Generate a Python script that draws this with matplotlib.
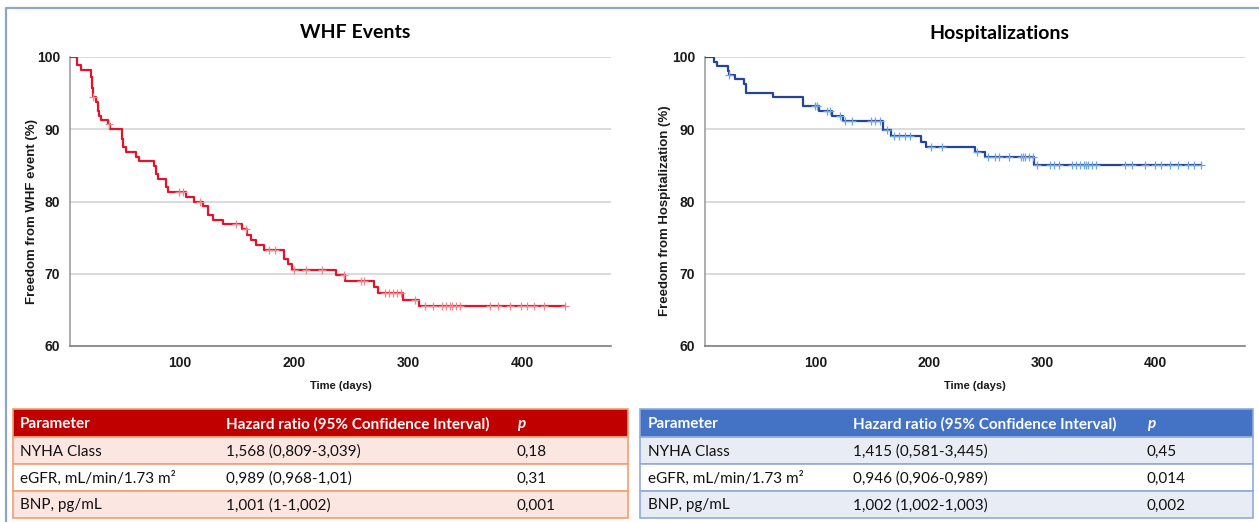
import numpy as np
import matplotlib
matplotlib.use("Agg")
import matplotlib.pyplot as plt
from matplotlib.patches import Rectangle

# --- Kaplan-Meier curve data ---
WHF_TIMES = [0, 10, 13, 22, 23, 24, 26, 28, 29, 31, 37, 39, 49, 50, 53, 61.5, 64,
             77, 79, 81, 88, 89.5, 105, 112, 120.5, 124.6, 129, 138, 154, 158.5,
             162, 167, 174, 191, 195, 198, 237, 245, 270, 274, 296, 310, 438]
WHF_SURV = [100, 98.9, 98.2, 97.2, 95.7, 94.4, 93.8, 92.5, 91.9, 91.3, 90.7, 90.0,
            88.7, 87.6, 86.9, 86.2, 85.6, 84.9, 83.8, 83.1, 82.0, 81.3, 80.6, 80.0,
            79.4, 78.1, 77.5, 76.9, 76.2, 75.4, 74.7, 74.0, 73.3, 72.0, 71.3, 70.5,
            69.8, 69.0, 68.2, 67.4, 66.4, 65.5, 65.5]
WHF_CENSOR = [24, 38, 99.6, 103, 118, 149, 158, 178, 183, 200, 210.5, 225, 243.5,
              259, 261.5, 280, 283.5, 287, 290, 294, 306, 314.5, 321.5, 330, 333.5,
              337, 339, 342, 346, 372, 379, 389, 399.5, 404.5, 410.5, 419.5, 438]

HOSP_TIMES = [0, 10.2, 13.1, 22.8, 23.9, 28.9, 36.5, 38.3, 62.3, 89.3, 102.9, 114.4,
              124.4, 159.2, 166.4, 192.6, 197.6, 240.7, 249.7, 293.2, 440.4]
HOSP_SURV = [100, 99.3, 98.7, 98.1, 97.5, 96.9, 96.2, 95.0, 94.4, 93.2, 92.5, 91.9,
             91.2, 89.9, 89.1, 88.3, 87.6, 86.8, 86.1, 85.1, 85.1]
HOSP_CENSOR = [24, 99.3, 101.4, 110, 112.6, 121.5, 125.8, 132.3, 148.5, 152, 156.8,
               162.8, 168.9, 173.6, 178.9, 183.3, 202.3, 211.3, 242.9, 252.6, 258,
               261.6, 270.6, 281.3, 283.1, 284.9, 288.5, 292.1, 295.7, 306.5, 310.1,
               314.7, 326.2, 329.8, 333.4, 336.9, 338.8, 340.5, 344.2, 347.7, 372.9,
               379.3, 390.8, 399.9, 405.2, 412.4, 420.3, 428.6, 434, 440.4]

X_TICKS = [100, 200, 300, 400]
Y_TICKS = [60, 70, 80, 90, 100]

# --- table data ---
TABLE_HEADER = ["Parameter", "Hazard ratio (95% Confidence Interval)", "p"]
TABLE_PARAMS = ["NYHA Class", "eGFR, mL/min/1.73 m²", "BNP, pg/mL"]
WHF_HR = ["1,568 (0,809-3,039)", "0,989 (0,968-1,01)", "1,001 (1-1,002)"]
WHF_P = ["0,18", "0,31", "0,001"]
HOSP_HR = ["1,415 (0,581-3,445)", "0,946 (0,906-0,989)", "1,002 (1,002-1,003)"]
HOSP_P = ["0,45", "0,014", "0,002"]

W, H = 1259, 522
fig = plt.figure(figsize=(W / 100, H / 100), dpi=100)
fig.patch.set_facecolor("white")

AX_FONT = "Liberation Sans"
TB_FONT = "Lato"


def step_value(times, surv, t):
    i = np.searchsorted(times, t, side="right") - 1
    return surv[max(i, 0)]


def km_panel(rect, times, surv, censor, line_col, cens_col, title, ylabel, xlim,
             ylab_x, title_x):
    ax = fig.add_axes(rect)
    ax.step(times, surv, where="post", color=line_col, lw=1.6, zorder=3)
    cy = [step_value(times, surv, t) for t in censor]
    ax.plot(censor, cy, ls="none", marker="+", ms=5.5, mew=0.9, color=cens_col, zorder=4)
    ax.set_xlim(*xlim)
    ax.set_ylim(60, 100)
    ax.set_xticks(X_TICKS)
    ax.set_yticks(Y_TICKS)
    ax.tick_params(length=0, pad=7)
    for lab in ax.get_xticklabels() + ax.get_yticklabels():
        lab.set_fontfamily(AX_FONT)
        lab.set_fontweight("bold")
        lab.set_fontsize(10)
        lab.set_color("#1a1a1a")
    ax.yaxis.grid(True, color="#d4d4d4", lw=1.2)
    ax.set_axisbelow(True)
    for s in ["top", "right"]:
        ax.spines[s].set_visible(False)
    ax.spines["left"].set_color("#a0a0a0")
    ax.spines["bottom"].set_color("#808080")
    ax.spines["left"].set_linewidth(1.2)
    ax.spines["bottom"].set_linewidth(1.2)
    ax.set_xlabel("Time (days)", fontfamily=AX_FONT, fontweight="bold", fontsize=8,
                  color="#1a1a1a", labelpad=8)
    fig.text(title_x / W, 1 - 33 / H, title, ha="center", va="center",
             fontfamily=TB_FONT, fontweight="bold", fontsize=14)
    fig.text(ylab_x / W, 1 - 211 / H, ylabel, rotation=90, ha="center", va="center",
             fontfamily=AX_FONT, fontweight="bold", fontsize=9.5, color="#1a1a1a")
    return ax


km_panel([70 / W, 1 - 346 / H, 541 / W, 289 / H], WHF_TIMES, WHF_SURV, WHF_CENSOR,
         "#e0142c", "#f08890", "WHF Events", "Freedom from WHF event (%)",
         (3.6, 478), 32, 355)
km_panel([705 / W, 1 - 346 / H, 540 / W, 289 / H], HOSP_TIMES, HOSP_SURV, HOSP_CENSOR,
         "#24449c", "#6ea6e0", "Hospitalizations", "Freedom from Hospitalization (%)",
         (2.4, 479), 665, 999)

# --- overlay in pixel coordinates: frame and tables ---
ov = fig.add_axes([0, 0, 1, 1], zorder=5)
ov.set_xlim(0, W)
ov.set_ylim(H, 0)
ov.axis("off")

ov.plot([6, 6, W], [H, 8, 8], color="#8ea6c4", lw=1.6, solid_capstyle="butt")


def draw_table(x0, x1, col_x, hr, pv, head_col, band_col, edge_col):
    top, head_h, row_h = 409, 28, 27
    ov.add_patch(Rectangle((x0, top), x1 - x0, head_h, facecolor=head_col,
                           edgecolor=edge_col, lw=1.2))
    for j, txt in enumerate(TABLE_HEADER):
        ov.text(col_x[j], top + head_h / 2 + 1, txt, ha="left", va="center",
                color="white", fontfamily=TB_FONT, fontweight="bold", fontsize=11,
                fontstyle="italic" if txt == "p" else "normal")
    for i in range(len(TABLE_PARAMS)):
        y = top + head_h + i * row_h
        fc = band_col if i % 2 == 0 else "white"
        ov.add_patch(Rectangle((x0, y), x1 - x0, row_h, facecolor=fc,
                               edgecolor=edge_col, lw=1.2))
        for j, txt in enumerate([TABLE_PARAMS[i], hr[i], pv[i]]):
            ov.text(col_x[j], y + row_h / 2 + 1, txt, ha="left", va="center",
                    color="#111111", fontfamily=TB_FONT, fontsize=11)


draw_table(13, 628, [20, 226, 517], WHF_HR, WHF_P, "#c00000", "#fbe6e2", "#f2a070")
draw_table(640, 1253, [648, 853, 1147], HOSP_HR, HOSP_P, "#4472c4", "#e8ecf4", "#8faadc")

fig.savefig("out.png", dpi=100, facecolor="white")
